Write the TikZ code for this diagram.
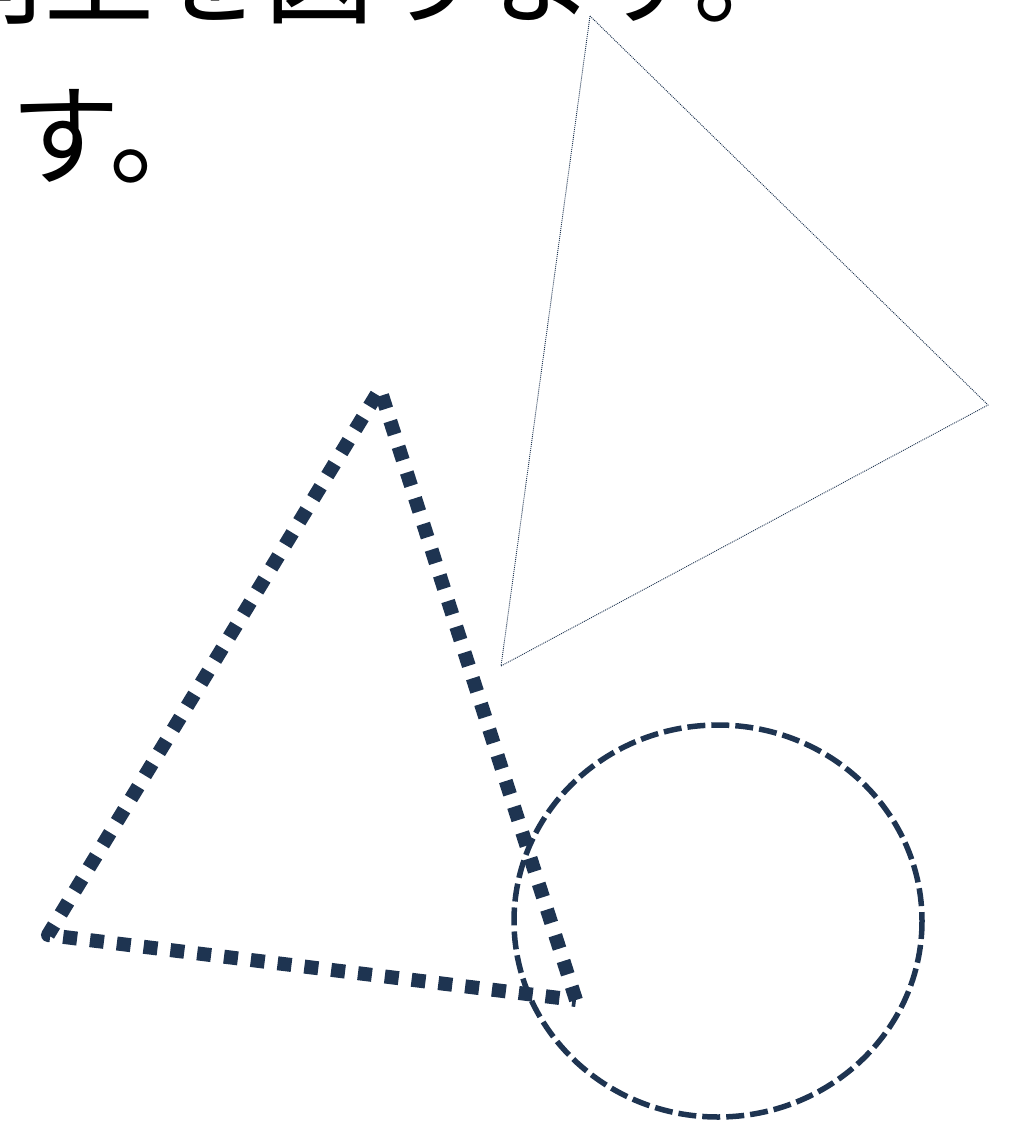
\documentclass[tikz,border=0pt]{standalone}
\usepackage{fontspec}
\newfontfamily\jpfont{Noto Sans CJK JP}
\definecolor{navy}{HTML}{1E3451}
\begin{document}
\begin{tikzpicture}[x=1pt,y=-1pt,
  bigtext/.style={anchor=base west,inner sep=0pt,font=\jpfont\fontsize{110}{160}\selectfont,text=black},
  thindot/.style={draw=navy,line width=0.9pt,dash pattern=on 1pt off 1pt},
  squaredot/.style={draw=navy,line width=14pt,dash pattern=on 14pt off 13pt,line join=round},
  dashring/.style={draw=navy,line width=5.5pt,dash pattern=on 18pt off 6pt}]
\useasboundingbox (0,0) rectangle (1021,1131);
\clip (0,0) rectangle (1021,1131);
\node[bigtext] (line1) at (-66,16) {向上を図ります。};
\node[bigtext] (line2) at (-100,177) {ます。};
% thin dotted triangle
\coordinate (ta) at (590,16);
\coordinate (tb) at (988,405);
\coordinate (tc) at (501,666);
\draw[thindot] (ta) -- (tb) -- (tc) -- cycle;
% thick square-dot triangle
\coordinate (pa) at (380,389);
\coordinate (pb) at (48,935);
\coordinate (pc) at (576,1000);
\draw[squaredot] (pc) -- (pa) -- (pb) -- cycle;
% dashed circle
\coordinate (cc) at (718,921);
\draw[dashring] (cc) ellipse [x radius=204, y radius=196];
\end{tikzpicture}
\end{document}
